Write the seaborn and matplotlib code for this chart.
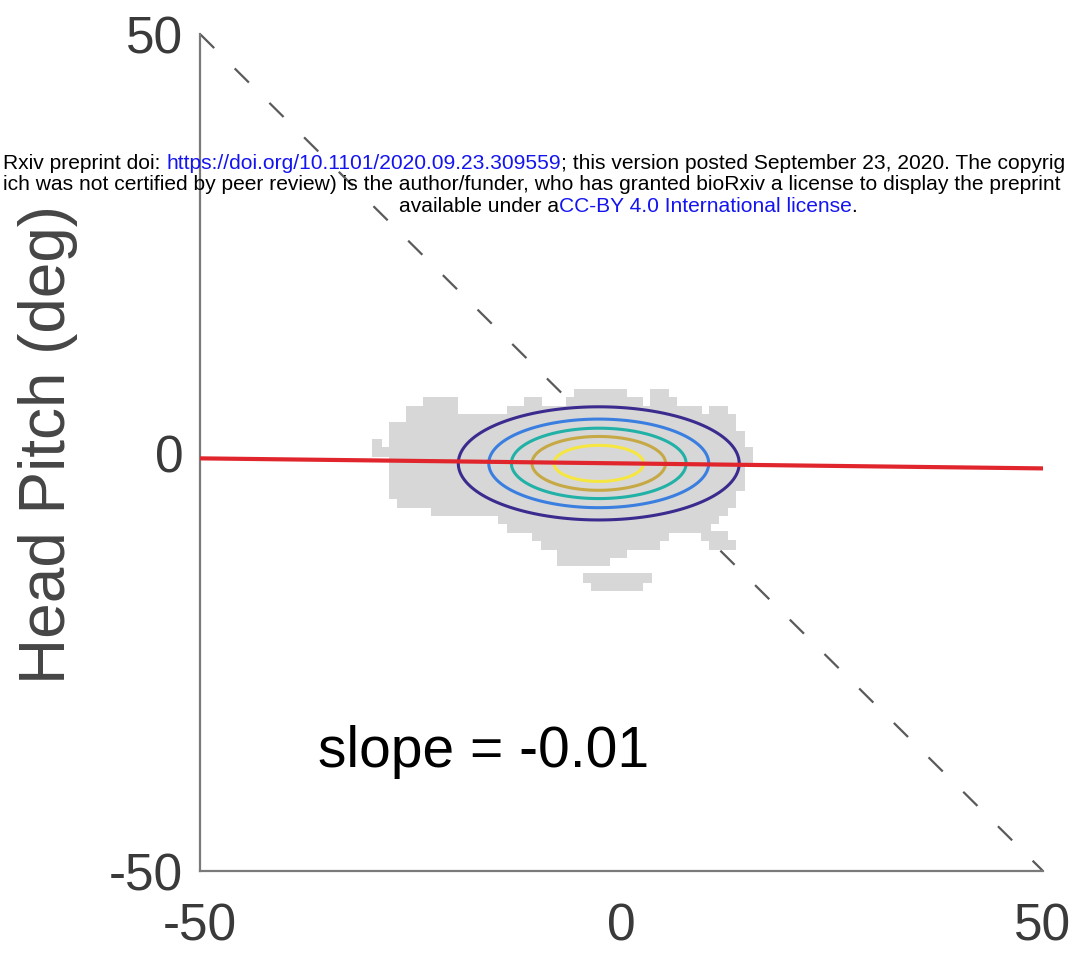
import matplotlib
matplotlib.use("Agg")
import numpy as np
import pandas as pd
import matplotlib.pyplot as plt
import seaborn as sns

# ---------------- data ----------------
x_ticks = [-50, 0, 50]
y_ticks = [-50, 0, 50]
x_tick_labels = ["-50", "0", "50"]
y_tick_labels = ["-50", "0", "50"]
y_label = "Head Pitch (deg)"
slope_label = "slope = -0.01"

# occupied 1-degree cells of the grey point cloud: (y, x_start, x_end)
cloud_rows = [
    (7, -5, 0), (7, 4, 5),
    (6, -23, -20), (6, -11, -10), (6, -6, 2), (6, 4, 6),
    (5, -25, -20), (5, -13, 9), (5, 11, 12),
    (4, -25, 13),
    (3, -27, 13),
    (2, -27, 14),
    (1, -29, -29), (1, -27, 14),
    (0, -29, 15),
    (-1, -27, 15),
    (-2, -27, 14),
    (-3, -27, 14),
    (-4, -27, 14),
    (-5, -27, 13),
    (-6, -26, 13),
    (-7, -22, 12),
    (-8, -14, 11),
    (-9, -13, 10),
    (-10, -10, 5), (-10, 10, 12),
    (-11, -9, 4), (-11, 11, 13),
    (-12, -7, 0),
    (-13, -7, -2),
    (-15, -4, 3),
    (-16, -3, 2),
]

# regression line
fit_slope = -0.012
fit_intercept = -1.3
fit_x = [-50, 50]

# reference diagonal
diag_x = [-50, 50]
diag_y = [50, -50]

# fitted 2-D gaussian (contours)
gauss_center = (-2.7, -1.3)
gauss_sigma = (8.8, 3.57)
contour_levels = [1/6, 2/6, 3/6, 4/6, 5/6]
contour_colors = ["#3b2b8e", "#3a7fe0", "#22b1a6", "#c6a945", "#f6e640"]

# watermark lines (visible portions), as (text, colour) pieces
blue = "#1414f0"
wm_line1 = [("Rxiv preprint doi: ", "black"),
            ("https://doi.org/10.1101/2020.09.23.309559", blue),
            ("; this version posted September 23, 2020. The copyrig", "black")]
wm_line2 = [("ich was not certified by peer review) is the author/funder, "
             "who has granted bioRxiv a license to display the preprint", "black")]
wm_line3 = [("available under a", "black"),
            ("CC-BY 4.0 International license", blue),
            (".", "black")]

# ---------------- figure ----------------
sns.set_style("white")
plt.rcParams["font.family"] = ["Liberation Sans", "DejaVu Sans"]

W, H = 1072, 954
fig = plt.figure(figsize=(W / 100, H / 100), dpi=100)
ax = fig.add_axes([200 / W, 1 - 872 / H, 843 / W, 837 / H])

# dashed diagonal
ax.plot(diag_x, diag_y, color="#5a5a5a", lw=1.6, dashes=(9, 13), zorder=1)

# grey cloud
cx, cy = [], []
for yy, x0, x1 in cloud_rows:
    for xx in range(x0, x1 + 1):
        cx.append(xx)
        cy.append(yy)
cloud = pd.DataFrame({"x": cx, "y": cy})
sns.scatterplot(data=cloud, x="x", y="y", marker="s", s=50, color="#d7d7d7",
                linewidth=0, ax=ax, zorder=2)

# gaussian contours
gx = np.linspace(-50, 50, 801)
gy = np.linspace(-50, 50, 801)
GX, GY = np.meshgrid(gx, gy)
Z = np.exp(-0.5 * ((GX - gauss_center[0]) / gauss_sigma[0]) ** 2
           - 0.5 * ((GY - gauss_center[1]) / gauss_sigma[1]) ** 2)
ax.contour(GX, GY, Z, levels=contour_levels, colors=contour_colors,
           linewidths=2.2, zorder=3)

# regression line
fit = pd.DataFrame({"x": fit_x, "y": [fit_intercept + fit_slope * v for v in fit_x]})
sns.lineplot(data=fit, x="x", y="y", color="#e0262c", lw=3, ax=ax, zorder=4)

ax.text(-36, -35.7, slope_label, fontsize=41, color="black", ha="left", va="center")

ax.set_xlim(-50, 50)
ax.set_ylim(-50, 50)
ax.set_xticks(x_ticks)
ax.set_xticklabels(x_tick_labels)
ax.set_yticks(y_ticks)
ax.set_yticklabels(y_tick_labels)
ax.set_xlabel("")
ax.set_ylabel("")
for side in ["top", "right"]:
    ax.spines[side].set_visible(False)
for side in ["left", "bottom"]:
    ax.spines[side].set_color("#7a7a7a")
    ax.spines[side].set_linewidth(1.6)
ax.tick_params(axis="both", direction="in", length=6, width=1.5, color="#7a7a7a",
               labelsize=37, labelcolor="#3a3a3a")
ax.tick_params(axis="x", pad=22)
ax.tick_params(axis="y", pad=12)
ax.set_facecolor("white")

fig.text(48 / W, 1 - 445 / H, y_label, rotation=90, ha="center", va="center",
         fontsize=46, color="#454545")

# ---------------- bioRxiv watermark ----------------
renderer = fig.canvas.get_renderer()


def text_width(s, fs):
    t = fig.text(0, 0, s + "|", fontsize=fs)
    w = t.get_window_extent(renderer).width
    t.remove()
    t = fig.text(0, 0, "|", fontsize=fs)
    w -= t.get_window_extent(renderer).width
    t.remove()
    return w


# font size so that the first line spans the figure width
full1 = "".join(s for s, _ in wm_line1)
wm_fs = 10 * 1064 / text_width(full1, 10)


def draw_line(pieces, left_px, base_px):
    x = left_px
    for s, col in pieces:
        fig.text(x / W, 1 - base_px / H, s, fontsize=wm_fs, color=col,
                 ha="left", va="baseline")
        x += text_width(s, wm_fs)


full2 = "".join(s for s, _ in wm_line2)
draw_line(wm_line1, 3, 169)
draw_line(wm_line2, 3, 190)
full3 = "".join(s for s, _ in wm_line3)
draw_line(wm_line3, 628 - text_width(full3, wm_fs) / 2, 212)

fig.savefig("out.png", dpi=100)
